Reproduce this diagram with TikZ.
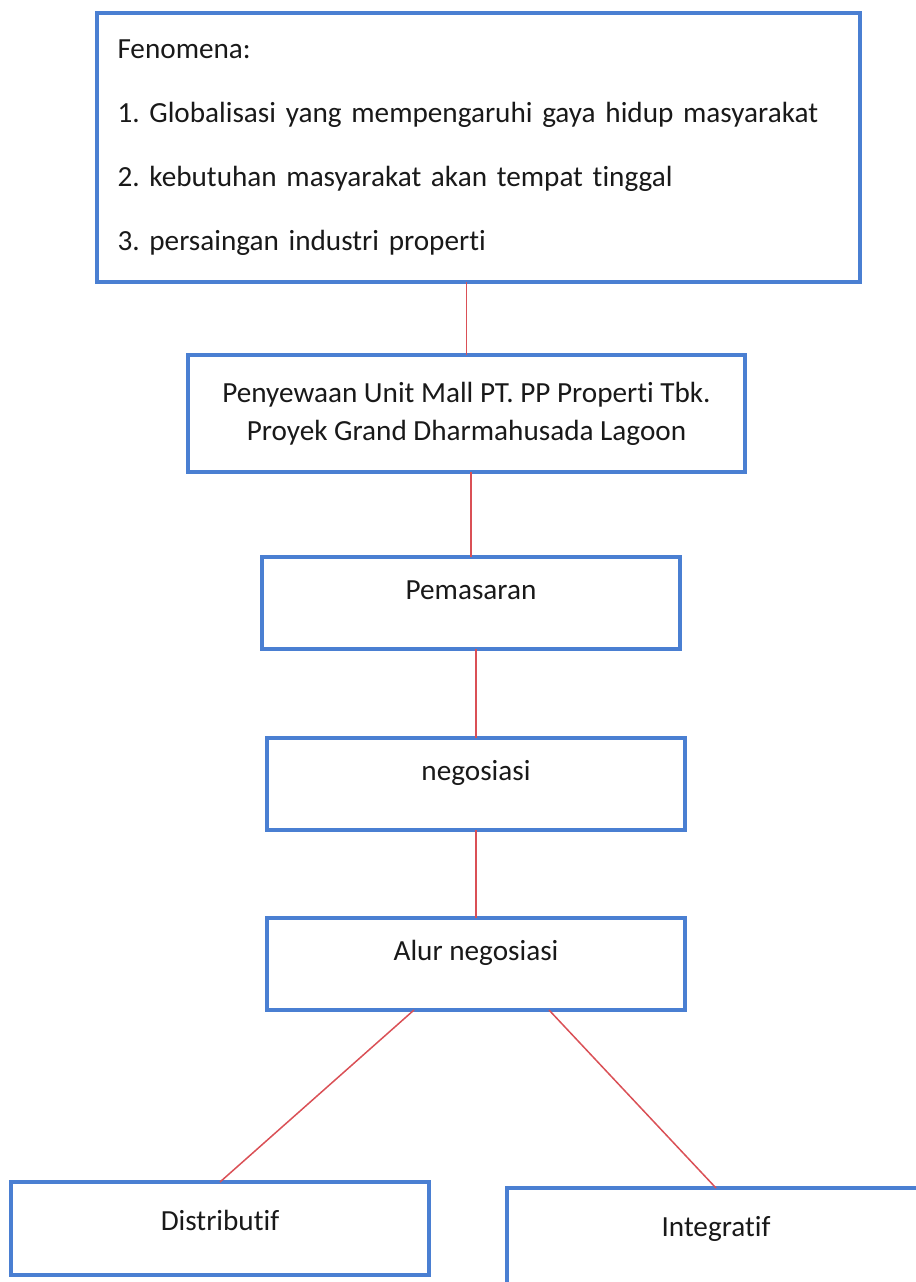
\documentclass[tikz,border=0pt]{standalone}
\usepackage{fontspec}
\setmainfont{Carlito}[Ligatures=NoCommon]
\usepackage{tikz}
\usetikzlibrary{positioning}

\definecolor{boxblue}{RGB}{74,127,210}
\definecolor{linered}{RGB}{218,80,86}

\frenchspacing
\begin{document}
\begin{tikzpicture}[
every node/.style={draw=boxblue, line width=2.3pt, outer sep=0pt, text=black!90, font=\fontsize{14.6}{19}\selectfont},
block/.style={minimum width=209pt, inner sep=0pt, text height=21pt, text depth=25pt, align=center},
link/.style={draw=linered, line width=0.75pt}
]
\useasboundingbox (0,0) rectangle (458pt,-641pt);
% Nodes
\node (fenomena) at (239.25pt,-73.75pt) [minimum width=381.5pt, minimum height=134.5pt, text width=361pt, inner xsep=10.25pt, align=left, font=\fontsize{14.6}{32}\selectfont] {Fenomena:\\1. Globalisasi yang mempengaruhi gaya hidup masyarakat\\2. kebutuhan masyarakat akan tempat tinggal\\3. persaingan industri properti};
\node (sewa) [below=36.5pt of fenomena, xshift=-6pt, minimum width=278.5pt, minimum height=58.5pt, align=center] {Penyewaan Unit Mall PT. PP Properti Tbk.\\Proyek Grand Dharmahusada Lagoon};
\node (pemasaran) [block, below=42.5pt of sewa, xshift=2.25pt] {Pemasaran};
\node (nego) [block, below=44.5pt of pemasaran, xshift=2.5pt] {negosiasi};
\node (alur) [block, below=44pt of nego] {Alur negosiasi};
\node (distributif) [block, below=86pt of alur, xshift=-128pt, text height=24pt, text depth=22.5pt] {Distributif};
\node (integratif) [block, below=89pt of alur, xshift=120pt, text height=24pt, text depth=30pt] {Integratif};

    % Lines
    \draw[link] (sewa.north) -- (sewa.north |- fenomena.south);
    \draw[link] (pemasaran.north) -- (pemasaran.north |- sewa.south);
    \draw[link] (nego.north) -- (nego.north |- pemasaran.south);
    \draw[link] (alur.north) -- (alur.north |- nego.south);
    \draw[link] ([xshift=-31pt]alur.south) -- (distributif.north);
    \draw[link] ([xshift=36.5pt]alur.south) -- (integratif.north);
\end{tikzpicture}
\end{document}
